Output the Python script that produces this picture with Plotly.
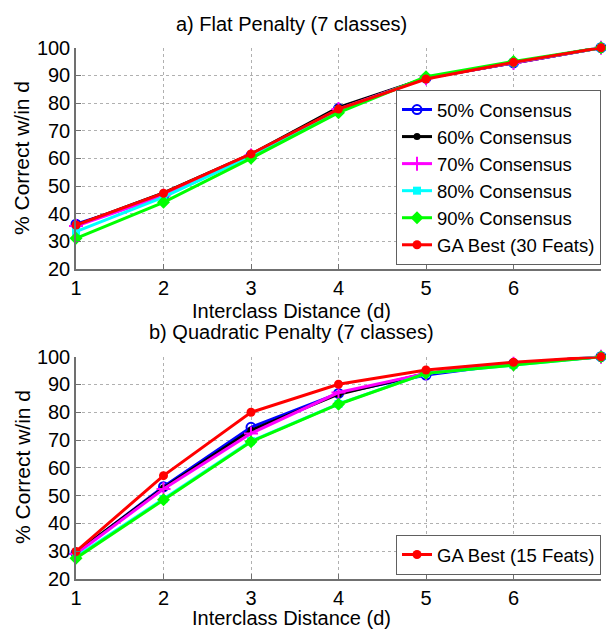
import plotly.graph_objects as go

x_vals = [1, 2, 3, 4, 5, 6, 7]
series_names = ["50% Consensus", "60% Consensus", "70% Consensus",
                "80% Consensus", "90% Consensus"]

# a) Flat penalty
flat_50 = [36.2, 46.3, 61.0, 78.0, 89.0, 94.5, 100]
flat_60 = [35.8, 47.5, 61.5, 78.4, 89.0, 94.5, 100]
flat_70 = [35.5, 46.5, 61.0, 77.8, 89.0, 94.5, 100]
flat_80 = [33.5, 46.0, 60.8, 77.5, 89.0, 94.7, 100]
flat_90 = [31.1, 44.1, 60.0, 76.5, 89.5, 95.0, 100]
flat_ga = [35.9, 47.4, 61.6, 77.8, 88.7, 94.7, 100]

# b) Quadratic penalty
quad_50 = [29.3, 53.2, 74.6, 86.8, 93.4, 97.5, 100]
quad_60 = [29.5, 52.8, 73.5, 86.5, 94.0, 97.5, 100]
quad_70 = [29.0, 52.4, 72.4, 87.1, 94.0, 97.5, 100]
quad_80 = [28.0, 48.8, 69.6, 83.0, 94.0, 97.0, 100]
quad_90 = [27.5, 48.5, 69.4, 82.9, 94.0, 97.0, 100]
quad_ga = [29.9, 57.2, 80.0, 90.1, 95.2, 98.0, 100]

x_ticks = [1, 2, 3, 4, 5, 6]
y_ticks = [20, 30, 40, 50, 60, 70, 80, 90, 100]

styles = [
    dict(color="#0000ff", symbol="circle-open", size=9, mlw=2),
    dict(color="#000000", symbol="circle", size=7, mlw=0),
    dict(color="#ff00ff", symbol="cross-thin-open", size=10, mlw=2),
    dict(color="#00ffff", symbol="square", size=8, mlw=0),
    dict(color="#00ff00", symbol="diamond", size=10, mlw=0),
    dict(color="#ff0000", symbol="circle", size=9, mlw=0),
]

W, H = 606, 629
fig = go.Figure()

flat = [flat_50, flat_60, flat_70, flat_80, flat_90, flat_ga]
quad = [quad_50, quad_60, quad_70, quad_80, quad_90, quad_ga]
names_a = series_names + ["GA Best (30 Feats)"]
names_b = series_names + ["GA Best (15 Feats)"]

for i, ys in enumerate(flat):
    s = styles[i]
    fig.add_trace(go.Scatter(
        x=x_vals, y=ys, name=names_a[i], mode="lines+markers",
        line=dict(color=s["color"], width=3),
        marker=dict(symbol=s["symbol"], size=s["size"], color=s["color"],
                    line=dict(color=s["color"], width=s["mlw"])),
        xaxis="x", yaxis="y", legend="legend", cliponaxis=False))

for i, ys in enumerate(quad):
    s = styles[i]
    fig.add_trace(go.Scatter(
        x=x_vals, y=ys, name=names_b[i], mode="lines+markers",
        line=dict(color=s["color"], width=3),
        marker=dict(symbol=s["symbol"], size=s["size"], color=s["color"],
                    line=dict(color=s["color"], width=s["mlw"])),
        xaxis="x2", yaxis="y2", legend="legend2",
        showlegend=(i == 5), cliponaxis=False))

xdom = [76 / W, 601 / W]
ydom_a = [1 - 269 / H, 1 - 47.7 / H]
ydom_b = [1 - 579 / H, 1 - 356.7 / H]

family = "Liberation Sans, Arial, sans-serif"
font = dict(family=family, size=20, color="#000000")
legfont = dict(family=family, size=18.5, color="#000000")

axis_common = dict(
    showline=True, linecolor="#707070", linewidth=1.5, mirror=False,
    showgrid=True, gridcolor="#b0b0b0", griddash="dot", gridwidth=1,
    ticks="inside", ticklen=5, tickcolor="#707070",
    tickfont=font, zeroline=False, automargin=False,
)

fig.update_layout(
    width=W, height=H,
    margin=dict(l=0, r=0, t=0, b=0),
    paper_bgcolor="white", plot_bgcolor="white",
    font=font,
    xaxis=dict(domain=xdom, range=[1, 7], tickvals=x_ticks, anchor="y", **axis_common),
    yaxis=dict(domain=ydom_a, range=[20, 100], tickvals=y_ticks, anchor="x", **axis_common),
    xaxis2=dict(domain=xdom, range=[1, 7], tickvals=x_ticks, anchor="y2", **axis_common),
    yaxis2=dict(domain=ydom_b, range=[20, 100], tickvals=y_ticks, anchor="x2", **axis_common),
    legend=dict(x=601 / W, xanchor="right", y=1 - 265 / H, yanchor="bottom",
                bgcolor="white", bordercolor="#606060", borderwidth=1,
                font=legfont, tracegroupgap=0),
    legend2=dict(x=601 / W, xanchor="right", y=1 - 575 / H, yanchor="bottom",
                 bgcolor="white", bordercolor="#606060", borderwidth=1,
                 font=legfont),
    showlegend=True,
)

def ann(text, xpx, ypx, angle=0, size=20):
    fig.add_annotation(text=text, x=xpx / W, y=1 - ypx / H, xref="paper", yref="paper",
                       showarrow=False, xanchor="center", yanchor="middle",
                       textangle=angle, font=dict(family=family, size=size, color="#000000"))

ann("a) Flat Penalty (7 classes)", 291, 24)
ann("Interclass Distance (d)", 291, 311)
ann("b) Quadratic Penalty (7 classes)", 291, 332)
ann("Interclass Distance (d)", 291, 618)
ann("% Correct w/in d", 22, 158, angle=-90, size=21)
ann("% Correct w/in d", 22, 467, angle=-90, size=21)

fig.write_html("out.html",
               config={"displayModeBar": False},
               post_script="document.body.style.margin='0px';document.body.style.overflow='hidden';")
